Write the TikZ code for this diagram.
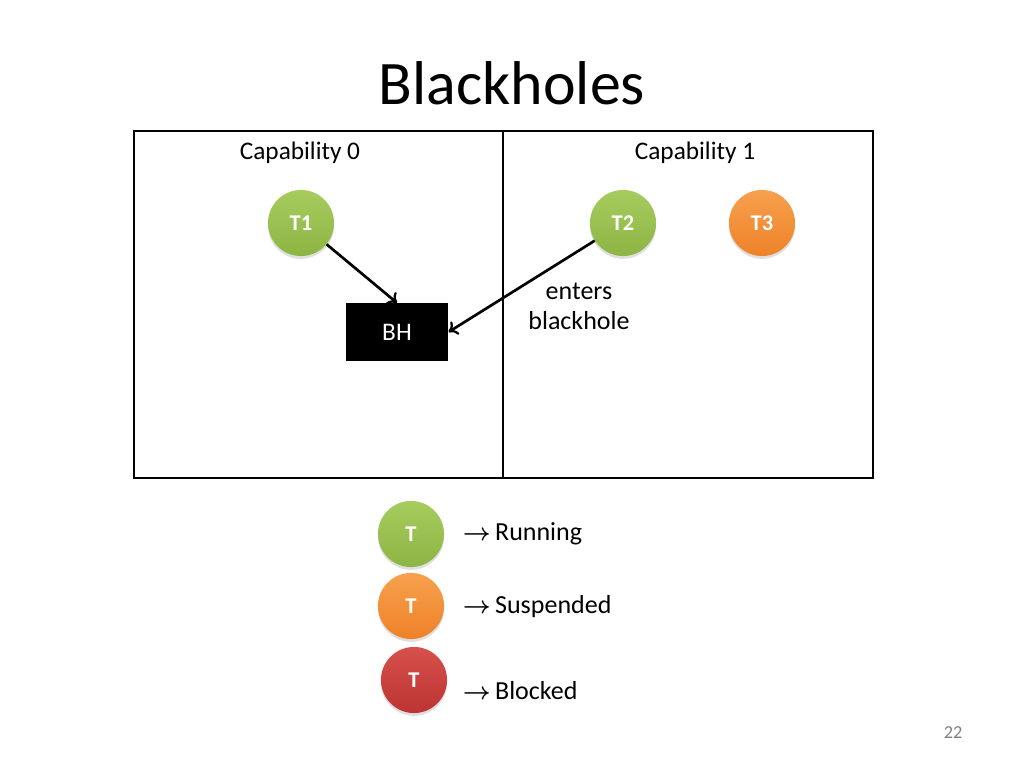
\documentclass[tikz,border=0pt]{standalone}
\usepackage{fontspec}
\setmainfont{Carlito}
\usetikzlibrary{shadows,arrows.meta}

\definecolor{runGreen}{HTML}{8DB543}
\definecolor{runGreenTop}{HTML}{A6CC5E}
\definecolor{suspOrange}{HTML}{EE8228}
\definecolor{suspOrangeTop}{HTML}{F7A04E}
\definecolor{blockRed}{HTML}{BD3432}
\definecolor{blockRedTop}{HTML}{D6504C}

\newcommand{\legarrow}{{\boldmath$\rightarrow$}\hspace{3pt}}

\begin{document}
\begin{tikzpicture}[x=0.025cm, y=-0.025cm,
every node/.style={font=\fontsize{18}{22}\selectfont},
thread/.style={circle, minimum size=47pt, inner sep=0pt, text=white,
  font=\fontsize{16}{18}\selectfont\bfseries,
  drop shadow={opacity=0.25, shadow xshift=0pt, shadow yshift=-2pt}},
running/.style={thread, top color=runGreenTop, bottom color=runGreen},
suspended/.style={thread, top color=suspOrangeTop, bottom color=suspOrange},
blocked/.style={thread, top color=blockRedTop, bottom color=blockRed},
legendthread/.style={font=\fontsize{16}{18}\selectfont\bfseries},
legendtext/.style={anchor=west, font=\fontsize{18.5}{22}\selectfont},
move/.style={-{To[length=6pt,width=11pt,line width=1.6pt]}, line width=1.9pt}]
\useasboundingbox (0,0) rectangle (1024,768);

% title
\node (title) at (512,83) {\fontsize{44}{50}\selectfont Blackholes};

% capabilities
\draw[line width=1.8pt] (134,131) rectangle (873,478);
\draw[line width=1.8pt] (503,131) -- (503,478);
\node (cap0) at (300,153) {Capability 0};
\node (cap1) at (695,153) {Capability 1};

% threads
\node[running] (T1) at (301,223) {T1};
\node[running] (T2) at (623,223) {T2};
\node[suspended] (T3) at (762,223) {T3};
\node[fill=black, text=white, inner sep=0pt,
  minimum width=73pt, minimum height=41pt] (BH) at (397,332) {BH};

\draw[move] (T1) -- (BH.north);
\draw[move] (T2) -- (BH.east);
\node[align=center, font=\fontsize{18.5}{21.5}\selectfont] (enters) at (579,306) {enters\\blackhole};

% legend
\node[running, legendthread] (Lrun) at (411,534) {T};
\node[suspended, legendthread] (Lsusp) at (411,606) {T};
\node[blocked, legendthread] (Lblock) at (414,680) {T};
\node[legendtext] (run) at (458,534) {\legarrow Running};
\node[legendtext] (susp) at (458,607) {\legarrow Suspended};
\node[legendtext] (block) at (458,691) {\legarrow Blocked};

% slide number
\node[text=gray, font=\fontsize{13}{15}\selectfont] (page) at (953,733) {22};
\end{tikzpicture}
\end{document}
